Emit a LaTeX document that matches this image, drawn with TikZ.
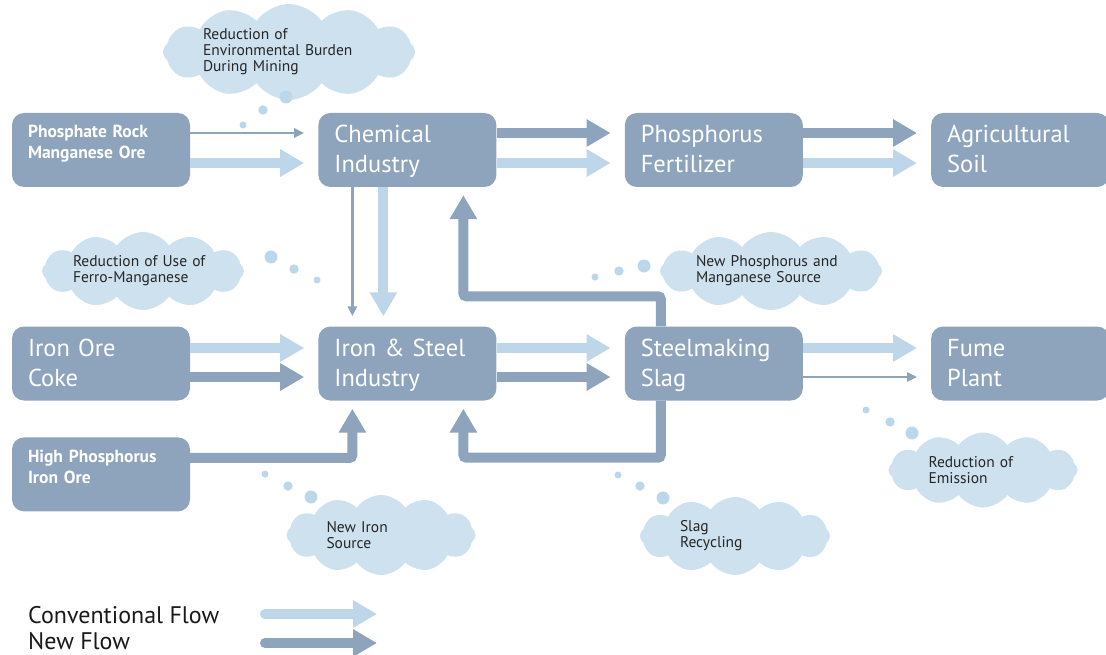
\documentclass[tikz,border=0pt]{standalone}
\usepackage{fontspec}
\setmainfont{PT Sans}
\usetikzlibrary{
arrows.meta,
positioning,
shapes.symbols
}
\definecolor{boxblue}{HTML}{8EA4BD}
\definecolor{flowlight}{HTML}{BED6E9}
\definecolor{cloudblue}{HTML}{CDE1EF}
\definecolor{bubbleblue}{HTML}{BCD6EA}
\tikzset{>=latex,
  bigbox/.style={fill=boxblue, rounded corners=12pt, text=white, align=left,
    text width=146pt, inner xsep=16pt, inner ysep=0pt, text height=30pt, text depth=44pt,
    font=\fontsize{24.5}{30}\selectfont},
  smallbox/.style={bigbox, text height=25pt, text depth=49pt,
    font=\fontsize{17.5}{21}\selectfont\bfseries},
  note/.style={cloud, cloud puffs=12, cloud puff arc=110, cloud ignores aspect, fill=cloudblue,
    text=black!85, align=left, inner sep=0pt, font=\fontsize{15.5}{16}\selectfont},
  newflow/.style={draw=boxblue, line width=10pt, -{Triangle[length=24pt,width=26pt]}, shorten >=14pt},
  oldflow/.style={newflow, draw=flowlight},
  newthin/.style={draw=boxblue, line width=2.5pt, -{Triangle[length=10pt,width=9pt]}, shorten >=14pt},
  legend/.style={anchor=west, inner sep=0pt, text=black!90, font=\fontsize{24}{28}\selectfont}
}
\begin{document}
\begin{tikzpicture}[x=1pt, y=-1pt, node distance=128pt]
		\useasboundingbox (0,0) rectangle (1106,655);

		\node[smallbox] (rock) at (101,150) {Phosphate Rock\\Manganese Ore};
		\node[bigbox, right=of rock] (chem) {Chemical\\Industry};
		\node[bigbox, right=of chem] (fert) {Phosphorus\\Fertilizer};
		\node[bigbox, right=of fert] (soil) {Agricultural\\Soil};

		\node[bigbox] (ore) at (101,363.5) {Iron Ore\\Coke};
		\node[bigbox, right=of ore] (steel) {Iron \& Steel\\Industry};
		\node[bigbox, right=of steel] (slag) {Steelmaking\\Slag};
		\node[bigbox, right=of slag] (fume) {Fume\\Plant};
		\node[smallbox, below=36.5pt of ore] (hipo) {High Phosphorus\\Iron Ore};

		\draw[newthin] ([yshift=17pt]rock.east) -- ([yshift=17pt]chem.west);
		\draw[oldflow] ([yshift=-13pt]rock.east) -- ([yshift=-13pt]chem.west);
		\draw[newflow] ([yshift=17pt]chem.east) -- ([yshift=17pt]fert.west);
		\draw[oldflow] ([yshift=-13pt]chem.east) -- ([yshift=-13pt]fert.west);
		\draw[newflow] ([yshift=17pt]fert.east) -- ([yshift=17pt]soil.west);
		\draw[oldflow] ([yshift=-13pt]fert.east) -- ([yshift=-13pt]soil.west);

		\draw[oldflow] ([yshift=15.5pt]ore.east) -- ([yshift=15.5pt]steel.west);
		\draw[newflow] ([yshift=-13.5pt]ore.east) -- ([yshift=-13.5pt]steel.west);
		\draw[oldflow] ([yshift=15.5pt]steel.east) -- ([yshift=15.5pt]slag.west);
		\draw[newflow] ([yshift=-13.5pt]steel.east) -- ([yshift=-13.5pt]slag.west);
		\draw[oldflow] ([yshift=15.5pt]slag.east) -- ([yshift=15.5pt]fume.west);
		\draw[newthin] ([yshift=-13.5pt]slag.east) -- ([yshift=-13.5pt]fume.west);

		\draw[newthin, shorten >=10pt] ([xshift=-55pt]chem.south) -- ([xshift=-55pt]steel.north);
		\draw[oldflow, shorten >=10pt] ([xshift=-24pt]chem.south) -- ([xshift=-24pt]steel.north);
		\draw[newflow, rounded corners=3pt, shorten >=8pt] ([xshift=-53pt]slag.north) -- ++(0,-30) -| ([xshift=56pt]chem.south);
		\draw[newflow, rounded corners=3pt, shorten >=8pt] ([xshift=-53pt]slag.south) -- ++(0,57) -| ([xshift=56pt]steel.south);
		\draw[newflow, rounded corners=3pt, shorten >=8pt] ([yshift=16.5pt]hipo.east) -| ([xshift=-55pt]steel.south);

		\node[note, minimum width=252pt, minimum height=80pt, text width=172pt] (burden) at (289,52) {Reduction of\\Environmental Burden\\During Mining};
		\node[note, minimum width=202pt, minimum height=78pt, text width=140pt] (ferro) at (143,271) {Reduction of Use of\\Ferro-Manganese};
		\node[note, minimum width=222pt, minimum height=78pt, text width=150pt] (source) at (771,271) {New Phosphorus and\\Manganese Source};
		\node[note, minimum width=189pt, minimum height=80pt, text width=109pt] (ironsrc) at (381,535) {New Iron\\Source};
		\node[note, minimum width=190pt, minimum height=78pt, text width=110pt] (recycle) at (735,536) {Slag\\Recycling};
		\node[note, minimum width=189pt, minimum height=75pt, text width=109pt] (emission) at (983,470) {Reduction of\\Emission};

		\fill[bubbleblue] (286,97) circle[radius=6.5pt];
		\fill[bubbleblue] (263,110) circle[radius=4.7pt];
		\fill[bubbleblue] (243,125) circle[radius=3.5pt];
		\fill[bubbleblue] (271,257) circle[radius=6.5pt];
		\fill[bubbleblue] (294,269) circle[radius=4.7pt];
		\fill[bubbleblue] (317,280) circle[radius=3.5pt];
		\fill[bubbleblue] (644,266) circle[radius=6.5pt];
		\fill[bubbleblue] (619,271) circle[radius=4.7pt];
		\fill[bubbleblue] (595,277) circle[radius=3.5pt];
		\fill[bubbleblue] (265,474) circle[radius=3.5pt];
		\fill[bubbleblue] (288,486) circle[radius=4.7pt];
		\fill[bubbleblue] (311,497) circle[radius=6.5pt];
		\fill[bubbleblue] (618,475) circle[radius=3.5pt];
		\fill[bubbleblue] (640,486) circle[radius=4.7pt];
		\fill[bubbleblue] (663,498) circle[radius=6.5pt];
		\fill[bubbleblue] (866,410) circle[radius=3.5pt];
		\fill[bubbleblue] (890,422) circle[radius=4.7pt];
		\fill[bubbleblue] (912,433) circle[radius=6.5pt];

		\node[legend] (convlbl) at (28,615) {Conventional Flow};
		\node[legend] (newlbl) at (28,641.5) {New Flow};
		\coordinate (convfrom) at (265,614);
		\coordinate (convto) at (377,614);
		\coordinate (newfrom) at (265,643);
		\coordinate (newto) at (377,643);
		\draw[oldflow, line cap=round, shorten >=0pt] (convfrom) -- (convto);
		\draw[newflow, line cap=round, shorten >=0pt] (newfrom) -- (newto);
	\end{tikzpicture}
\end{document}
